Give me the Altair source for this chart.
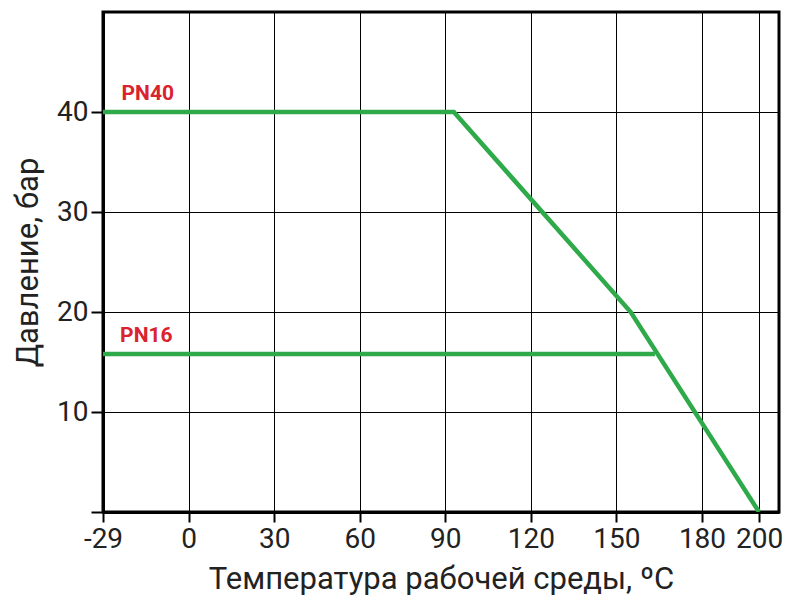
import altair as alt
import pandas as pd

# PN40 curve
pn40_t = [-30, 93, 155, 200]
pn40_p = [40, 40, 20, 0]
# PN16 curve
pn16_t = [-30, 163.5]
pn16_p = [15.8, 15.8]

x_ticks = [-30, 0, 30, 60, 90, 120, 150, 180, 200]
y_ticks = [0, 10, 20, 30, 40]

label_names = ["PN40", "PN16"]
label_t = [-23.5, -24]
label_p = [40.8, 16.6]

rows = []
for t, p in zip(pn40_t, pn40_p):
    rows.append({"series": "PN40", "t": t, "p": p})
for t, p in zip(pn16_t, pn16_p):
    rows.append({"series": "PN16", "t": t, "p": p})
df = pd.DataFrame(rows)
lab = pd.DataFrame({"name": label_names, "t": label_t, "p": label_p})

FONT = "Roboto"
xscale = alt.Scale(domain=[-30, 207], nice=False, zero=False)
yscale = alt.Scale(domain=[0, 50], nice=False)

lines = alt.Chart(df).mark_line(color="#2eaa4a", strokeWidth=4.5, clip=True).encode(
    x=alt.X("t:Q", scale=xscale,
            axis=alt.Axis(values=x_ticks, title="Температура рабочей среды, ºC",
                          labelExpr="datum.value == -30 ? '-29' : datum.label",
                          grid=True, gridColor="black", gridWidth=1, gridOpacity=1,
                          tickColor="black", tickSize=10, tickWidth=2,
                          domainColor="black", domainWidth=3,
                          labelFont=FONT, labelFontSize=28, labelColor="#222",
                          labelPadding=3, labelFlush=False, labelOverlap=False,
                          titleFont=FONT, titleFontSize=31, titleFontWeight="normal",
                          titleColor="#222", titlePadding=11)),
    y=alt.Y("p:Q", scale=yscale,
            axis=alt.Axis(values=y_ticks, title="Давление, бар",
                          labelExpr="datum.value == 0 ? '' : datum.label",
                          grid=True, gridColor="black", gridWidth=1, gridOpacity=1,
                          tickColor="black", tickSize=12, tickWidth=2,
                          domainColor="black", domainWidth=3,
                          labelFont=FONT, labelFontSize=28, labelColor="#222",
                          labelPadding=3,
                          titleFont=FONT, titleFontSize=31, titleFontWeight="normal",
                          titleColor="#222", titlePadding=12)),
    detail="series:N",
)

texts = alt.Chart(lab).mark_text(color="#d9232e", fontWeight="bold", font=FONT,
                                 fontSize=21, align="left", baseline="bottom").encode(
    x=alt.X("t:Q", scale=xscale),
    y=alt.Y("p:Q", scale=yscale),
    text="name:N",
)

chart = alt.layer(lines, texts).properties(
    width=676, height=500,
    autosize=alt.AutoSizeParams(type="none"),
    padding={"left": 95, "top": 4, "right": 5, "bottom": 92},
    background="white",
).configure_view(stroke="black", strokeWidth=3)

chart.save("out.html", embed_options={"renderer": "svg", "actions": False})
